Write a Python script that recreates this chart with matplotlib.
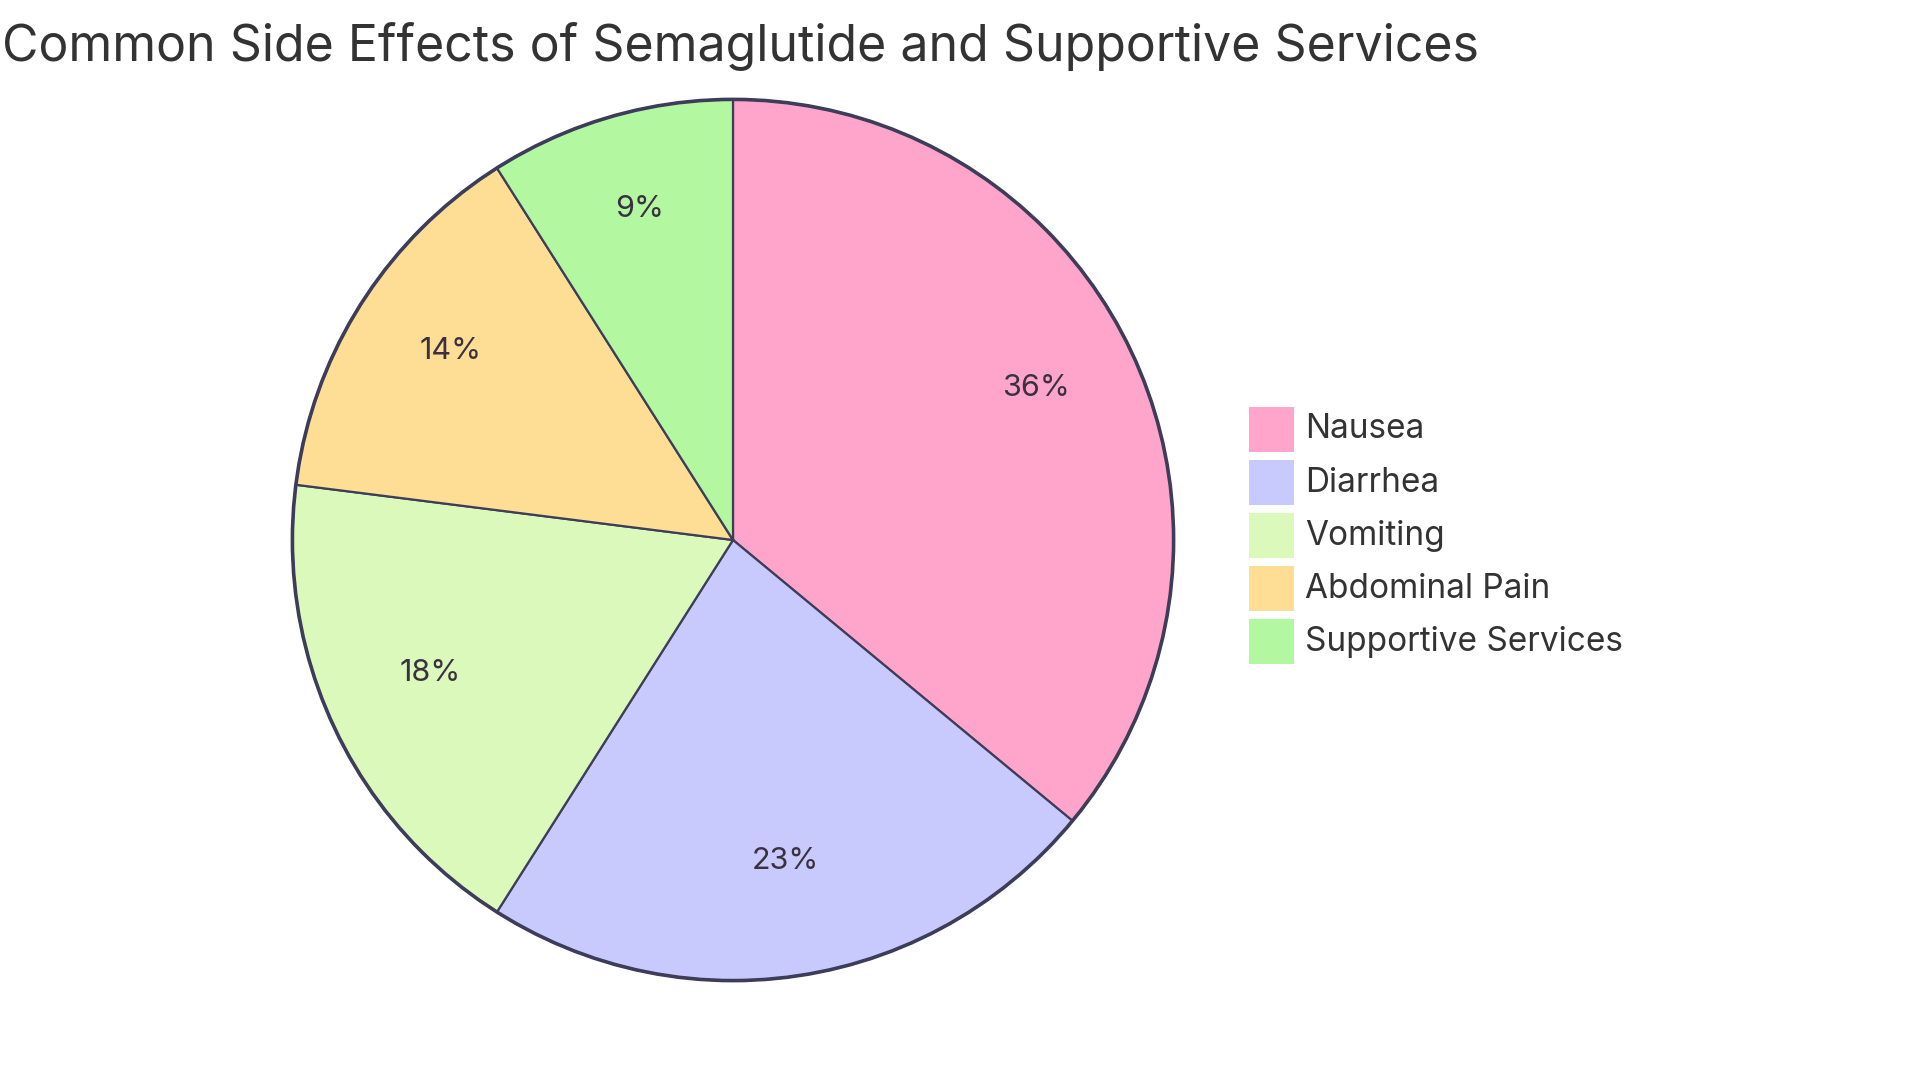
import matplotlib.pyplot as plt
from matplotlib.patches import Circle, Rectangle

plt.rcParams['font.family'] = ['Inter', 'DejaVu Sans']

# data
labels = ['Nausea', 'Diarrhea', 'Vomiting', 'Abdominal Pain', 'Supportive Services']
values = [36, 23, 18, 14, 9]
colors = ['#FFA5CB', '#C8CAFE', '#DBF9BA', '#FDDE94', '#B3F7A1']
edge = '#3D3D5A'

W, H = 1920, 1083
fig = plt.figure(figsize=(W / 100, H / 100), dpi=100)

# pie axes, sized in pixels
cx, cy, r = 733, 540, 445
ax = fig.add_axes([(cx - r) / W, (H - cy - r) / H, 2 * r / W, 2 * r / H])
wedges, texts, autotexts = ax.pie(
    values, colors=colors, startangle=90, counterclock=False,
    autopct='%1.0f%%', pctdistance=0.76,
    wedgeprops=dict(edgecolor=edge, linewidth=1.6),
    textprops=dict(fontsize=22, color='#3a3040'))
for t in autotexts:
    x, y = t.get_position()
    t.set_position((x, y + 10 / r))
ax.add_patch(Circle((0, 0), 1, fill=False, edgecolor=edge, linewidth=2.6))
ax.set_xlim(-1.01, 1.01)
ax.set_ylim(-1.01, 1.01)
ax.set_aspect('equal')
ax.axis('off')

fig.text(1479 / W, 1 - 61 / H, 'Common Side Effects of Semaglutide and Supportive Services',
         ha='right', va='baseline', fontsize=36, color='#333333')

# legend drawn by hand: swatch 45 px, row pitch 53 px
lx, ly, sw, pitch = 1249, 407, 45, 53
for i, (lab, col) in enumerate(zip(labels, colors)):
    top = ly + i * pitch
    fig.patches.append(Rectangle((lx / W, 1 - (top + sw) / H), sw / W, sw / H,
                                 transform=fig.transFigure, facecolor=col,
                                 edgecolor='none'))
    fig.text((lx + sw + 11) / W, 1 - (top + sw / 2) / H, lab,
             ha='left', va='center', fontsize=24, color='#333333')

fig.savefig('out.png', dpi=100, facecolor='white')
